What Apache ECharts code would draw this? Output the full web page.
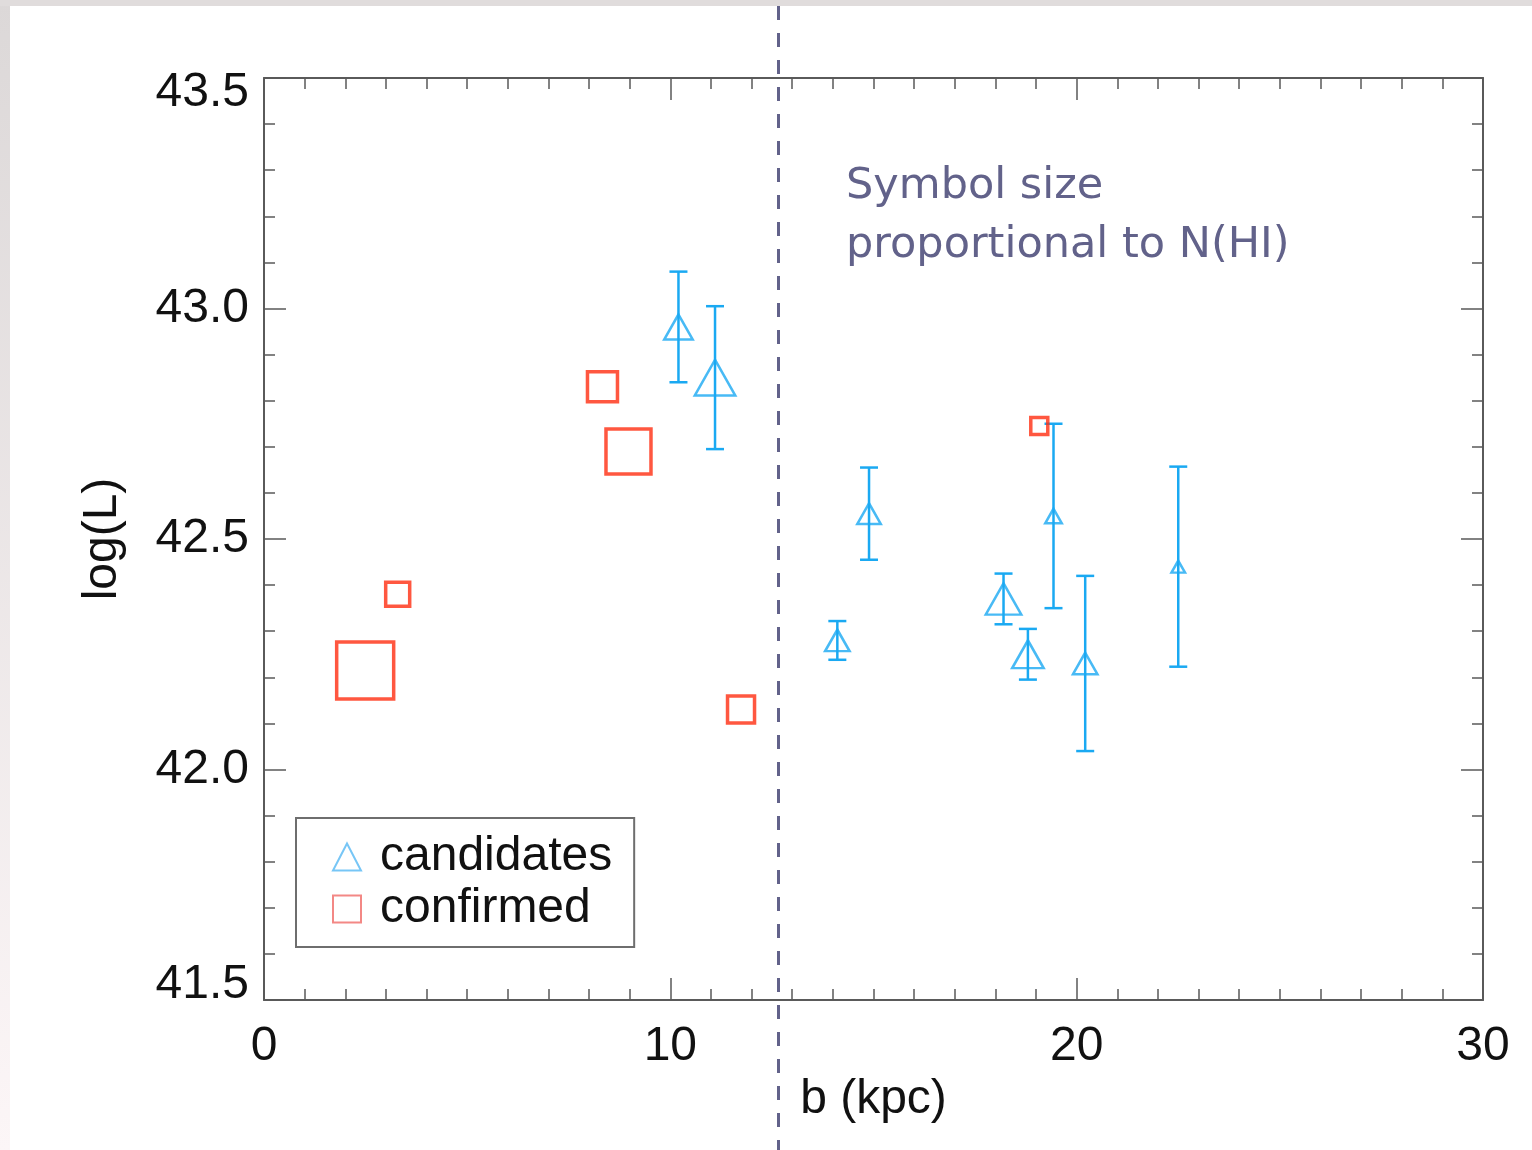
<!DOCTYPE html>
<html><head><meta charset="utf-8">
<script src="https://cdn.jsdelivr.net/npm/echarts@6/dist/echarts.min.js"></script>
<style>html,body{margin:0;padding:0;background:#fff}#c{width:1532px;height:1150px}</style>
</head><body><div id="c"></div>
<script>
// ---- data ----
const candB     = [10.20, 11.10, 14.89, 14.11, 18.20, 18.80, 19.43, 20.21, 22.50];
const candLogL  = [42.96, 42.85, 42.555, 42.28, 42.37, 42.25, 42.55, 42.23, 42.44];
const candErr   = [0.12, 0.155, 0.10, 0.042, 0.055, 0.055, 0.20, 0.19, 0.217];
const candNHI   = [0.57, 0.81, 0.47, 0.49, 0.71, 0.63, 0.33, 0.49, 0.27]; // relative N(HI)
const confB     = [8.33, 8.97, 3.29, 2.49, 11.74, 19.08];
const confLogL  = [42.83, 42.69, 42.38, 42.215, 42.13, 42.745];
const confNHI   = [0.60, 0.90, 0.48, 1.14, 0.54, 0.34];                 // relative N(HI)
const xRange    = [0, 30];
const yRange    = [41.5, 43.5];
const dividerB  = 12.65;
const noteText  = 'Symbol size\nproportional to N(HI)';
const seriesNames = ['candidates', 'confirmed'];

// ---- styles ----
const BLUE = '#1aa9f2', RED = '#ff2d10', AXIS = '#5a5a5a', NOTE = '#62628a';
const SYM = 50;
const FONT = 'Liberation Sans';

const chart = echarts.init(document.getElementById('c'), null, {renderer: 'canvas'});

const axisCommon = {
  axisLine: {show: true, onZero: false, lineStyle: {color: AXIS, width: 2}},
  axisTick: {show: true, inside: true, length: 22, lineStyle: {color: AXIS, width: 1.5}},
  minorTick: {show: true, length: 11, lineStyle: {color: AXIS, width: 1.5}},
  splitLine: {show: false}
};

const xBase = {type: 'value', min: xRange[0], max: xRange[1], interval: 10};
const yBase = {type: 'value', min: yRange[0], max: yRange[1], interval: 0.5};

chart.setOption({
  backgroundColor: '#ffffff',
  animation: false,
  grid: {left: 264, right: 49, top: 78, bottom: 150, containLabel: false},
  xAxis: [
    Object.assign({}, xBase, axisCommon, {
      position: 'bottom',
      minorTick: Object.assign({}, axisCommon.minorTick, {splitNumber: 10}),
      axisLabel: {show: true, margin: 23, fontSize: 48, fontFamily: FONT, color: '#111'},
      name: 'b (kpc)', nameLocation: 'middle', nameGap: 73,
      nameTextStyle: {fontSize: 48, fontFamily: FONT, color: '#111'}
    }),
    Object.assign({}, xBase, axisCommon, {
      position: 'top',
      minorTick: Object.assign({}, axisCommon.minorTick, {splitNumber: 10}),
      axisLabel: {show: false}
    })
  ],
  yAxis: [
    Object.assign({}, yBase, axisCommon, {
      position: 'left',
      minorTick: Object.assign({}, axisCommon.minorTick, {splitNumber: 5}),
      axisLabel: {
        show: true, margin: 15, fontSize: 48, fontFamily: FONT, color: '#111',
        formatter: function (v) {
          const s = v.toFixed(1);
          if (v === yRange[0]) return '{lo|' + s + '}';
          if (v === yRange[1]) return '{hi|' + s + '}';
          return s;
        },
        rich: {
          lo: {fontSize: 48, fontFamily: FONT, color: '#111', padding: [0, 0, 30, 0]},
          hi: {fontSize: 48, fontFamily: FONT, color: '#111', padding: [30, 0, 0, 0]}
        }
      },
      name: 'log(L)', nameLocation: 'middle', nameGap: 137, nameRotate: 90,
      nameTextStyle: {fontSize: 48, fontFamily: FONT, color: '#111'}
    }),
    Object.assign({}, yBase, axisCommon, {
      position: 'right',
      minorTick: Object.assign({}, axisCommon.minorTick, {splitNumber: 5}),
      axisLabel: {show: false}
    })
  ],
  legend: {
    left: 296, top: 818, orient: 'vertical',
    padding: [15, 22, 14, 36], itemGap: 4, itemWidth: 28, itemHeight: 27,
    borderColor: '#6e6e6e', borderWidth: 2, selectedMode: false,
    textStyle: {fontSize: 48, fontFamily: FONT, color: '#111', padding: [0, 0, 0, 14]},
    data: [
      {name: seriesNames[0], icon: 'triangle',
       itemStyle: {color: 'rgba(0,0,0,0)', borderColor: '#55b8f4', borderWidth: 2}},
      {name: seriesNames[1], icon: 'rect',
       itemStyle: {color: 'rgba(0,0,0,0)', borderColor: '#f06a66', borderWidth: 2}}
    ]
  },
  series: [
    {
      name: 'errorbars', type: 'custom', xAxisIndex: 0, yAxisIndex: 0, silent: true,
      data: candB.map((b, i) => [b, candLogL[i] - candErr[i], candLogL[i] + candErr[i]]),
      encode: {x: 0, y: [1, 2]},
      renderItem: function (params, api) {
        const x = api.value(0);
        const pLo = api.coord([x, api.value(1)]);
        const pHi = api.coord([x, api.value(2)]);
        const cw = 9;
        const st = {stroke: BLUE, lineWidth: 2.5, fill: null};
        return {type: 'group', children: [
          {type: 'line', shape: {x1: pLo[0], y1: pLo[1], x2: pHi[0], y2: pHi[1]}, style: st},
          {type: 'line', shape: {x1: pLo[0] - cw, y1: pLo[1], x2: pLo[0] + cw, y2: pLo[1]}, style: st},
          {type: 'line', shape: {x1: pHi[0] - cw, y1: pHi[1], x2: pHi[0] + cw, y2: pHi[1]}, style: st}
        ]};
      },
      z: 3
    },
    {
      name: seriesNames[0], type: 'scatter', symbol: 'triangle', silent: true,
      data: candB.map((b, i) => ({value: [b, candLogL[i]],
        symbolSize: [candNHI[i] * SYM, candNHI[i] * SYM * 0.88]})),
      itemStyle: {color: 'rgba(0,0,0,0)', borderColor: BLUE, borderWidth: 2.5},
      z: 4
    },
    {
      name: seriesNames[1], type: 'scatter', symbol: 'rect', silent: true,
      data: confB.map((b, i) => ({value: [b, confLogL[i]], symbolSize: confNHI[i] * SYM})),
      itemStyle: {color: 'rgba(0,0,0,0)', borderColor: RED, borderWidth: 3.5},
      z: 4
    }
  ]
});

const divX = Math.floor(chart.convertToPixel({xAxisIndex: 0}, dividerB)) + 0.5;
chart.setOption({
  graphic: [
    {type: 'rect', left: 0, top: 0, z: -5, silent: true,
     shape: {x: 0, y: 0, width: 10, height: 1150},
     style: {fill: new echarts.graphic.LinearGradient(0, 0, 0, 1, [
       {offset: 0, color: '#dcd8d8'}, {offset: 1, color: '#fcf6f7'}])}},
    {type: 'rect', left: 0, top: 0, z: -5, silent: true,
     shape: {x: 0, y: 0, width: 1532, height: 6},
     style: {fill: '#e0dcdc'}},
    {type: 'line', z: 10, silent: true,
     shape: {x1: divX, y1: 6, x2: divX, y2: 1150},
     style: {stroke: NOTE, lineWidth: 3, lineDash: [14, 13]}},
    {type: 'text', left: 846, top: 157, z: 10, silent: true,
     style: {text: noteText, font: '43px "DejaVu Sans"', fill: NOTE, lineHeight: 59}}
  ]
});
</script></body></html>
